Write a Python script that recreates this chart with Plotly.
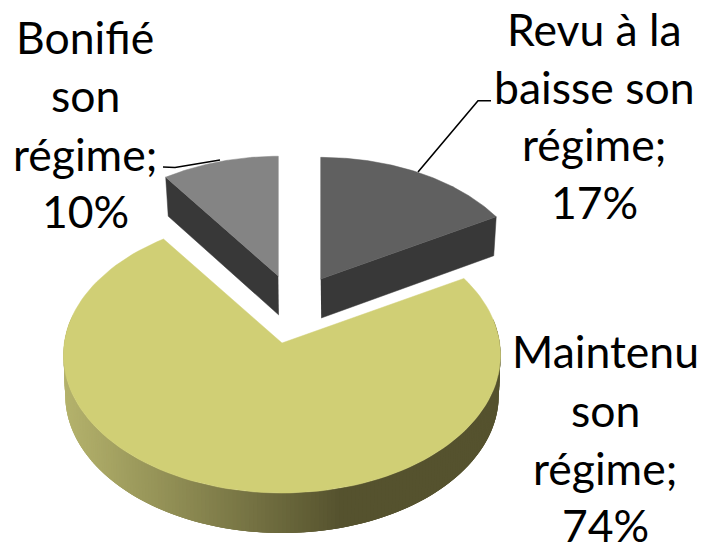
import numpy as np
import plotly.graph_objects as go

# --- data ---
categories = ["Revu à la baisse son régime", "Maintenu son régime", "Bonifié son régime"]
values = [17, 74, 10]
label_lines = [["Revu à la", "baisse son", "régime;", "17%"],
               ["Maintenu", "son", "régime;", "74%"],
               ["Bonifié", "son", "régime;", "10%"]]

# --- style / layout constants ---
W, H = 704, 543
R, C, K = 217.7, 137.0, 0.0868       # perspective ellipse
DEPTH = 40
top_colors = ["#606060", "#D0CF75", "#848484"]
side_color = "#383838"
apexes = [(320.7, 279), (282, 343), (278.3, 276)]
scales = [0.965, 1.0, 0.95]
label_x = [594, 605, 85]
label_y = [[28, 86, 143, 201], [350, 409, 467, 524], [36, 94, 153, 210]]
FONT = dict(family="Lato, Carlito, Calibri, sans-serif", size=44.5, color="#000000")


def project(theta_deg, apex, scale):
    t = np.radians(np.asarray(theta_deg, dtype=float))
    X, Y = np.sin(t), np.cos(t)
    s = 1 / (1 + K * Y)
    return apex[0] + scale * R * X * s, apex[1] - scale * C * Y * s


fracs = np.array(values) / sum(values) * 360
ends = np.cumsum(fracs)
starts = ends - fracs

fig = go.Figure()


def poly(xs, ys, color, lw=0.5):
    fig.add_trace(go.Scatter(x=list(xs), y=list(ys), mode="lines", fill="toself",
                             fillcolor=color, line=dict(color=color, width=lw),
                             hoverinfo="skip", showlegend=False))


# side of the large slice: gradient strips, each overlapping its neighbour so no seams show
apex = apexes[1]
a = np.linspace(80, 282, 203)
x, y = project(a, apex, scales[1])
xb = apex[0] + (x - apex[0]) * 0.992
yb = y + DEPTH
c0 = np.array([180, 178, 108])
c1 = np.array([85, 82, 46])
for i in range(len(a) - 1):
    k = max(0, i - 2)
    f = np.clip((0.5 * (x[i] + x[i + 1]) - 65) / (335 - 65), 0, 1)
    col = c0 + (c1 - c0) * f
    poly([x[k], x[i + 1], xb[i + 1], xb[k]], [y[k], y[i + 1], yb[i + 1], yb[k]],
         "rgb(%d,%d,%d)" % tuple(col), lw=0)

# tops
for idx in [1, 0, 2]:
    ap, sc = apexes[idx], scales[idx]
    a = np.linspace(starts[idx], ends[idx], 120)
    x, y = project(a, ap, sc)
    if idx != 1:
        # visible cut face towards the viewer
        tx, ty = (x[-1], y[-1]) if idx == 0 else (x[0], y[0])
        sgn = -1 if idx == 0 else 1
        poly([ap[0], tx, tx + sgn * 2.5, ap[0] + 0.5],
             [ap[1], ty, ty + DEPTH - 1, ap[1] + DEPTH - 1], side_color)
    poly(np.r_[ap[0], x, ap[0]], np.r_[ap[1], y, ap[1]], top_colors[idx])

# leader lines
LEADERS = [([418, 478, 491], [172, 100.7, 100.7]), ([163, 175, 220], [167, 167.5, 160])]
for lx, ly in LEADERS:
    fig.add_trace(go.Scatter(x=lx, y=ly, mode="lines", line=dict(color="black", width=1.6),
                             hoverinfo="skip", showlegend=False))

# labels
for lines, xc, ys in zip(label_lines, label_x, label_y):
    for t, yy in zip(lines, ys):
        fig.add_annotation(x=xc, y=yy, text=t, showarrow=False, font=FONT,
                           xanchor="center", yanchor="middle")

fig.update_layout(width=W, height=H, margin=dict(l=0, r=0, t=0, b=0),
                  paper_bgcolor="white", plot_bgcolor="white", showlegend=False,
                  xaxis=dict(range=[0, W], visible=False, fixedrange=True),
                  yaxis=dict(range=[H, 0], visible=False, fixedrange=True))
fig.write_html("out.html", config=dict(displayModeBar=False),
               post_script="document.body.style.margin='0';")
